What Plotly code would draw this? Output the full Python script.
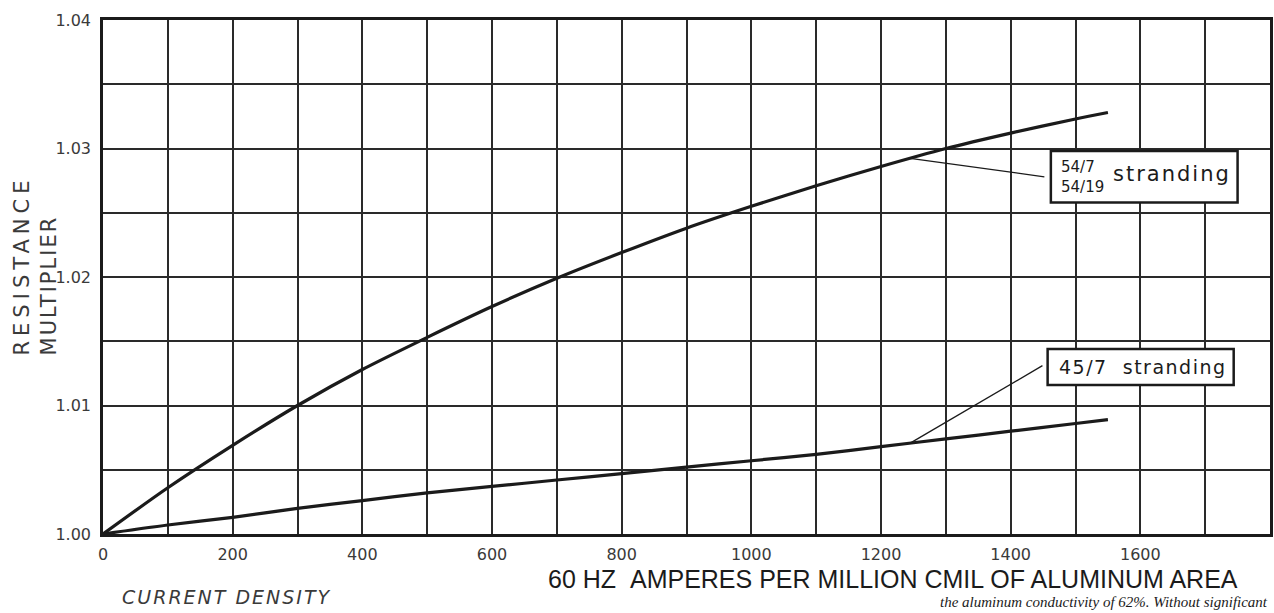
import numpy as np
import plotly.graph_objects as go

# ---- data ----
current_density = [0, 100, 200, 300, 400, 500, 600, 700, 800, 900, 1000,
                   1100, 1200, 1300, 1400, 1500, 1550]
mult_54 = [1.0000, 1.0036, 1.0069, 1.0100, 1.0128, 1.0153, 1.0177, 1.0199,
           1.0219, 1.0238, 1.0255, 1.0271, 1.0286, 1.0300, 1.0312, 1.0323, 1.0328]
mult_45 = [1.0000, 1.0007, 1.0013, 1.0020, 1.0026, 1.0032, 1.0037, 1.0042,
           1.0047, 1.0052, 1.0057, 1.0062, 1.0068, 1.0074, 1.0080, 1.0086, 1.0089]

x_tickvals = [0, 200, 400, 600, 800, 1000, 1200, 1400, 1600]
x_ticktext = ["0", "200", "400", "600", "800", "1000", "1200", "1400", "1600"]
y_tickvals = [1.00, 1.01, 1.02, 1.03, 1.04]
y_ticktext = ["1.00", "1.01", "1.02", "1.03", "1.04"]

label_54_frac = "54/7<br>54/19"
label_54 = "stranding"
label_45 = "45/7&nbsp;&nbsp;stranding"
y_title_1 = "RESISTANCE"
y_title_2 = "MULTIPLIER"
x_title = "60 HZ&nbsp;&nbsp;AMPERES PER MILLION CMIL OF ALUMINUM AREA"
x_note = "CURRENT DENSITY"
caption = "the aluminum conductivity of 62%. Without significant"

INK = "#1b1b1b"
GRID = "#2a2a2a"
TXT = "#3a3a3a"

fig = go.Figure()
fig.add_trace(go.Scatter(x=current_density, y=mult_54, mode="lines",
                         line=dict(color=INK, width=3.2, shape="spline", smoothing=0.8),
                         hoverinfo="skip", showlegend=False))
fig.add_trace(go.Scatter(x=current_density, y=mult_45, mode="lines",
                         line=dict(color=INK, width=3.2, shape="spline", smoothing=0.8),
                         hoverinfo="skip", showlegend=False))

# leader-line targets on the curves
lx = 1245
ly54 = float(np.interp(lx, current_density, mult_54))
ly45 = float(np.interp(lx, current_density, mult_45))

# label boxes
fig.add_shape(type="rect", x0=1462, x1=1750, y0=1.0258, y1=1.0298,
              xref="x", yref="y", line=dict(color=INK, width=2.5), fillcolor="white", layer="above")
fig.add_shape(type="rect", x0=1457, x1=1744, y0=1.0116, y1=1.0144,
              xref="x", yref="y", line=dict(color=INK, width=2.5), fillcolor="white", layer="above")
# leader lines
fig.add_shape(type="line", x0=lx, y0=ly54, x1=1452, y1=1.0278,
              xref="x", yref="y", line=dict(color=INK, width=1.3), layer="above")
fig.add_shape(type="line", x0=lx, y0=ly45, x1=1449, y1=1.0131,
              xref="x", yref="y", line=dict(color=INK, width=1.3), layer="above")

fig.add_annotation(x=1474, y=1.0278, xref="x", yref="y", text=label_54_frac,
                   showarrow=False, xanchor="left", yanchor="middle", align="left",
                   font=dict(family="DejaVu Sans", size=15, color=INK))
fig.add_annotation(x=1743, y=1.0280, xref="x", yref="y",
                   text="<span style='letter-spacing:2px'>" + label_54 + "</span>",
                   showarrow=False, xanchor="right", yanchor="middle",
                   font=dict(family="DejaVu Sans", size=21, color=INK))
fig.add_annotation(x=1737, y=1.0130, xref="x", yref="y",
                   text="<span style='letter-spacing:1.5px'>" + label_45 + "</span>",
                   showarrow=False, xanchor="right", yanchor="middle",
                   font=dict(family="DejaVu Sans", size=19, color=INK))

# axis titles as annotations
fig.add_annotation(x=-0.058, y=0.523, xref="paper", yref="paper",
                   text="<span style='letter-spacing:5px'>" + y_title_1 + "</span><br>"
                        "<span style='letter-spacing:2px'>" + y_title_2 + "</span>",
                   showarrow=False, textangle=-90, align="left",
                   xanchor="center", yanchor="middle",
                   font=dict(family="DejaVu Sans", size=21, color=TXT))
fig.add_annotation(x=0.677, y=-0.087, xref="paper", yref="paper", text=x_title,
                   showarrow=False, xanchor="center", yanchor="middle",
                   font=dict(family="Liberation Sans", size=25, color=INK))
fig.add_annotation(x=0.106, y=-0.122, xref="paper", yref="paper",
                   text="<i><span style='letter-spacing:2px'>" + x_note + "</span></i>",
                   showarrow=False, xanchor="center", yanchor="middle",
                   font=dict(family="DejaVu Sans", size=19, color=TXT))
fig.add_annotation(x=1.0, y=-0.152, xref="paper", yref="paper",
                   text="<i>" + caption + "</i>",
                   showarrow=False, xanchor="right", yanchor="bottom",
                   font=dict(family="Liberation Serif", size=15, color=INK))

axis_common = dict(showline=True, linecolor=INK, linewidth=2.5, mirror=True,
                   showgrid=True, gridcolor=GRID, gridwidth=2, zeroline=False,
                   ticks="", tickfont=dict(family="DejaVu Sans", size=16, color=TXT))

fig.update_xaxes(range=[0, 1800], tickmode="array", tickvals=x_tickvals, ticktext=x_ticktext,
                 minor=dict(tick0=0, dtick=100, showgrid=True, gridcolor=GRID, gridwidth=2),
                 ticklabelstandoff=4, **axis_common)
fig.update_yaxes(range=[1.0, 1.04], tickmode="array", tickvals=y_tickvals, ticktext=y_ticktext,
                 minor=dict(tick0=1.0, dtick=0.005, showgrid=True, gridcolor=GRID, gridwidth=2),
                 ticklabelstandoff=6, **axis_common)

fig.update_layout(width=1274, height=613,
                  margin=dict(l=103, r=1, t=20, b=79),
                  paper_bgcolor="white", plot_bgcolor="white")

fig.write_html("out.html", config={"displayModeBar": False},
               post_script="document.body.style.margin='0';document.body.style.overflow='hidden';")
